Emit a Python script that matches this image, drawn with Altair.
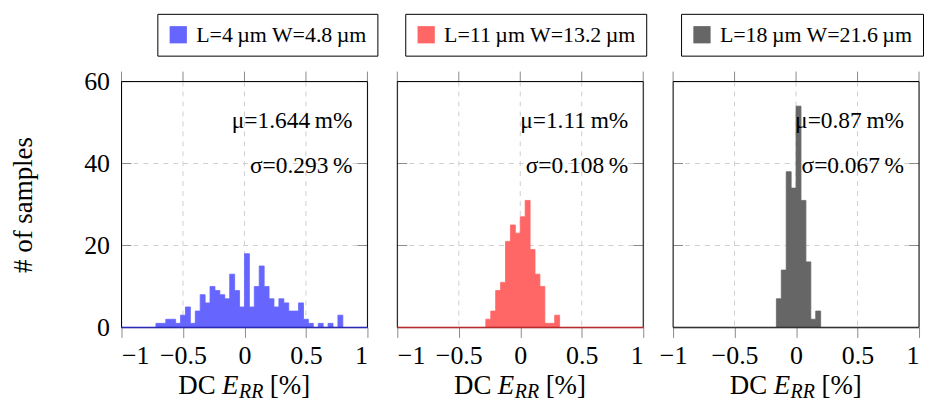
import altair as alt
import pandas as pd

FONT = "Liberation Serif"

# ---- data ----
labels = ["L=4\u2009µm W=4.8\u2009µm", "L=11\u2009µm W=13.2\u2009µm", "L=18\u2009µm W=21.6\u2009µm"]
colors = ["#6666ff", "#ff6666", "#666666"]
line_colors = ["#2b2bb8", "#b82b2b", "#333333"]
bin_width = 0.04
bin_starts = [-0.72, -0.28, -0.16]
counts_1 = [1, 1, 2, 2, 1, 3, 5, 1, 4, 8, 6, 10, 9, 8, 7, 13, 9, 5, 18, 5,
            10, 15, 10, 7, 5, 7, 6, 4, 4, 6, 2, 1, 0, 1, 0, 1, 0, 3]
counts_2 = [2, 4, 9, 11, 21, 25, 23, 27, 31, 19, 13, 10, 1, 1, 3]
counts_3 = [7, 14, 38, 34, 54, 31, 16, 2, 4]
all_counts = [counts_1, counts_2, counts_3]
mu_text = ["μ=1.644\u2009m%", "μ=1.11\u2009m%", "μ=0.87\u2009m%"]
sigma_text = ["σ=0.293\u2009%", "σ=0.108\u2009%", "σ=0.067\u2009%"]
x_ticks = [-1, -0.5, 0, 0.5, 1]
y_ticks = [0, 20, 40, 60]
grid_x = [-0.5, 0, 0.5]
grid_y = [20, 40]
legend_x = [36, 8, 8]

W, H = 247, 247
GRID = "#cfcfcf"
TICK = "#8a8a8a"


def panel(i):
    counts = all_counts[i]
    # histogram as a step area: one point per bin edge (last edge closes at 0)
    edges = [round(bin_starts[i] + k * bin_width, 4) for k in range(len(counts) + 1)]
    hist_df = pd.DataFrame({"x": edges, "y": counts + [0], "series": labels[i]})
    one = pd.DataFrame({"k": [0]})

    xs = alt.Scale(domain=[-1, 1], nice=False, zero=False)
    ys = alt.Scale(domain=[0, 60], nice=False, zero=False)
    xaxis_kw = dict(values=x_ticks, format="~g", title=None, grid=False, domain=False,
                    tickColor=TICK, tickSize=10, labelPadding=5, labelFont=FONT,
                    labelFontSize=26, labelColor="black")
    if i == 2:
        xaxis_kw["labelAlign"] = {"condition": {"test": "datum.value == 1", "value": "right"},
                                  "value": "center"}
    xaxis = alt.Axis(**xaxis_kw)
    if i == 0:
        yaxis = alt.Axis(values=y_ticks, title="# of samples", grid=False, domain=False,
                         ticks=False, tickSize=0, labelPadding=12, labelFont=FONT,
                         labelFontSize=26, labelColor="black", titleFont=FONT,
                         titleFontSize=27, titleFontWeight="normal", titleColor="black",
                         titleX=-98, titleY=H / 2, titleAngle=270, titleAlign="center",
                         titleBaseline="middle")
    else:
        yaxis = None

    X = lambda f: alt.X(f, scale=xs, axis=xaxis)
    Y = lambda f: alt.Y(f, scale=ys, axis=yaxis)

    gx = alt.Chart(pd.DataFrame({"x": grid_x})).mark_rule(
        color=GRID, strokeDash=[5, 5], strokeWidth=1).encode(x=X("x:Q"))
    gy = alt.Chart(pd.DataFrame({"y": grid_y})).mark_rule(
        color=GRID, strokeDash=[5, 5], strokeWidth=1).encode(y=Y("y:Q"))

    top_ticks = alt.Chart(pd.DataFrame({"x": x_ticks})).mark_rule(
        color=TICK, strokeWidth=1).encode(x=X("x:Q"), y=alt.value(-10), y2=alt.value(0))
    left_ticks = alt.Chart(pd.DataFrame({"y": y_ticks})).mark_rule(
        color=TICK, strokeWidth=1).encode(y=Y("y:Q"), x=alt.value(0), x2=alt.value(10))
    right_ticks = alt.Chart(pd.DataFrame({"y": y_ticks})).mark_rule(
        color=TICK, strokeWidth=1).encode(y=Y("y:Q"), x=alt.value(W - 10), x2=alt.value(W))

    hist = alt.Chart(hist_df).mark_area(interpolate="step-after", opacity=1,
                                        stroke=colors[i], strokeWidth=0.8).encode(
        x=X("x:Q"), y=Y("y:Q"),
        color=alt.Color("series:N",
                        scale=alt.Scale(domain=[labels[i]], range=[colors[i]]),
                        legend=alt.Legend(orient="none", legendX=legend_x[i], legendY=-68,
                                          title=None, labelFont=FONT, labelFontSize=22,
                                          labelColor="black", labelLimit=600,
                                          symbolType="square",
                                          symbolSize=300, symbolStrokeWidth=0,
                                          symbolOpacity=1, strokeColor="black",
                                          fillColor="white", padding=10, labelOffset=7)),
    )

    txt = dict(font=FONT, color="black", baseline="alphabetic")
    mu = alt.Chart(pd.DataFrame({"t": [mu_text[i]]})).mark_text(
        fontSize=23.5, align="right", **txt).encode(
        x=alt.value(W - 15), y=alt.value(47), text="t:N")
    sg = alt.Chart(pd.DataFrame({"t": [sigma_text[i]]})).mark_text(
        fontSize=23.5, align="right", **txt).encode(
        x=alt.value(W - 15), y=alt.value(92), text="t:N")

    frame = alt.Chart(one).mark_rect(filled=False, stroke="black", strokeWidth=1).encode(
        x=alt.value(0), x2=alt.value(W), y=alt.value(0), y2=alt.value(H))
    base = alt.Chart(one).mark_rule(color=line_colors[i], strokeWidth=1.5).encode(
        x=alt.value(0), x2=alt.value(W), y=alt.value(H))

    # x-axis title: "DC E_RR [%]"
    t_dc = alt.Chart(one).mark_text(fontSize=27, align="left", **txt).encode(
        x=alt.value(57), y=alt.value(H + 67), text=alt.value("DC"))
    t_e = alt.Chart(one).mark_text(fontSize=27, align="left", fontStyle="italic", **txt).encode(
        x=alt.value(101), y=alt.value(H + 67), text=alt.value("E"))
    t_rr = alt.Chart(one).mark_text(fontSize=20, align="left", fontStyle="italic", **txt).encode(
        x=alt.value(118), y=alt.value(H + 71), text=alt.value("RR"))
    t_pc = alt.Chart(one).mark_text(fontSize=27, align="left", **txt).encode(
        x=alt.value(149), y=alt.value(H + 67), text=alt.value("[%]"))

    return alt.layer(gx, gy, top_ticks, left_ticks, right_ticks, hist, mu, sg,
                     frame, base, t_dc, t_e, t_rr, t_pc).properties(width=W, height=H)


chart = alt.hconcat(panel(0), panel(1), panel(2), spacing=30, bounds="flush").resolve_scale(
    color="independent", x="independent", y="independent"
).properties(
    padding={"left": 1, "top": 4, "right": 0, "bottom": 0}
).configure_view(stroke=None).configure(font=FONT)

chart.save("out.html", embed_options={"renderer": "svg", "actions": False})
